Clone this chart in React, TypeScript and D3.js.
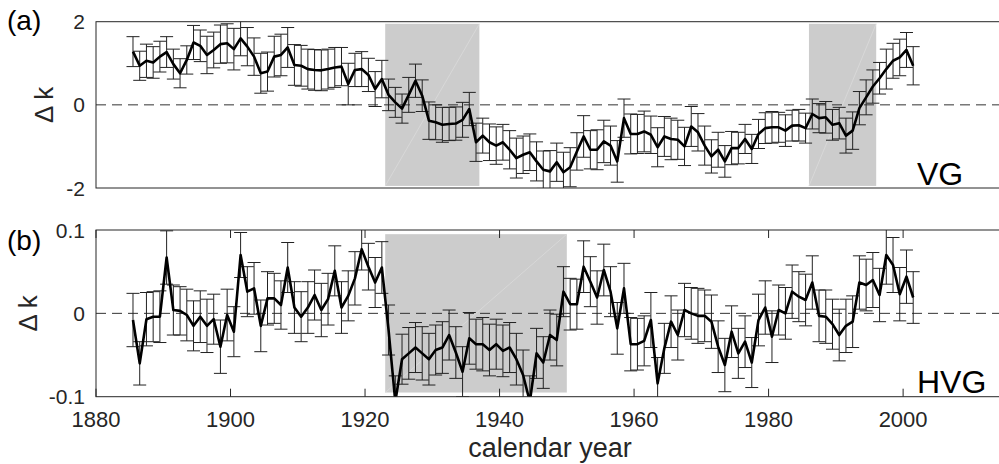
import React from 'react';
import * as d3 from 'd3';

// ---- data ----
const years: number[] = d3.range(1885.5, 2002, 1);

const vgValues = [
  1.28, 0.94, 1.06, 1.02, 1.16, 1.27, 0.98, 0.76, 1.08, 1.50,
  1.42, 1.20, 1.32, 1.46, 1.48, 1.34, 1.60, 1.40, 1.16, 0.76,
  0.80, 1.16, 1.20, 1.38, 0.96, 0.94, 0.86, 0.84, 0.83, 0.86,
  0.90, 0.92, 0.50, 0.84, 0.86, 0.72, 0.38, 0.62, 0.24, 0.06,
  -0.09, 0.24, 0.58, 0.22, -0.38, -0.42, -0.48, -0.46, -0.45, -0.36,
  -0.10, -0.90, -0.74, -0.90, -0.98, -0.90, -1.08, -1.28, -1.20, -1.14,
  -1.36, -1.56, -1.60, -1.38, -1.62, -1.50, -1.12, -0.76, -1.08, -1.08,
  -0.88, -0.98, -1.36, -0.32, -0.70, -0.70, -0.64, -0.72, -1.02, -0.76,
  -0.82, -0.84, -1.00, -0.52, -0.66, -0.98, -1.24, -1.08, -1.36, -1.04,
  -1.04, -0.82, -1.06, -0.70, -0.56, -0.54, -0.54, -0.62, -0.50, -0.49,
  -0.56, -0.22, -0.32, -0.30, -0.48, -0.44, -0.74, -0.62, -0.08, 0.18,
  0.44, 0.64, 0.86, 1.06, 1.14, 1.32, 0.94,
];

const vgErrors = [
  0.36, 0.35, 0.40, 0.38, 0.37, 0.37, 0.36, 0.35, 0.34, 0.41,
  0.38, 0.45, 0.43, 0.46, 0.47, 0.50, 0.42, 0.46, 0.45, 0.48,
  0.47, 0.49, 0.50, 0.48, 0.49, 0.49, 0.48, 0.49, 0.49, 0.48,
  0.48, 0.46, 0.50, 0.40, 0.42, 0.40, 0.42, 0.45, 0.38, 0.36,
  0.35, 0.42, 0.40, 0.38, 0.45, 0.42, 0.42, 0.40, 0.40, 0.42,
  0.40, 0.46, 0.42, 0.44, 0.45, 0.43, 0.46, 0.48, 0.45, 0.44,
  0.47, 0.45, 0.50, 0.46, 0.48, 0.47, 0.45, 0.50, 0.46, 0.48,
  0.51, 0.47, 0.50, 0.46, 0.48, 0.47, 0.49, 0.45, 0.47, 0.48,
  0.50, 0.47, 0.46, 0.48, 0.45, 0.47, 0.40, 0.42, 0.38, 0.40,
  0.38, 0.35, 0.35, 0.35, 0.37, 0.38, 0.36, 0.38, 0.37, 0.38,
  0.36, 0.36, 0.35, 0.38, 0.37, 0.38, 0.42, 0.45, 0.40, 0.42,
  0.40, 0.38, 0.48, 0.42, 0.44, 0.42, 0.46,
];

const hvgValues = [
  -0.008, -0.060, -0.007, -0.004, -0.004, 0.067, 0.004, 0.003, -0.002, -0.015,
  -0.004, -0.015, -0.007, -0.040, -0.002, -0.022, 0.070, 0.026, 0.030, -0.015,
  0.018, 0.018, 0.010, 0.055, 0.007, -0.004, 0.007, 0.022, 0.004, 0.017,
  0.051, 0.007, 0.021, 0.042, 0.077, 0.056, 0.037, 0.055, -0.020, -0.106,
  -0.055, -0.048, -0.041, -0.048, -0.055, -0.044, -0.041, -0.026, -0.047, -0.070,
  -0.030, -0.037, -0.037, -0.044, -0.037, -0.045, -0.041, -0.055, -0.074, -0.106,
  -0.048, -0.059, -0.026, -0.032, 0.026, 0.011, 0.011, 0.056, 0.038, 0.019,
  0.052, 0.026, -0.018, 0.030, -0.037, -0.037, -0.033, -0.008, -0.084, -0.042,
  -0.010, -0.026, 0.004, 0.000, -0.003, -0.003, -0.010, -0.040, -0.062, -0.022,
  -0.048, -0.034, -0.059, -0.008, 0.007, -0.028, 0.004, 0.000, 0.026, 0.020,
  0.016, 0.037, -0.003, -0.004, -0.013, -0.026, -0.015, -0.010, 0.037, 0.034,
  0.040, 0.022, 0.070, 0.058, 0.023, 0.044, 0.019,
];

const hvgErrors = [
  0.032, 0.026, 0.032, 0.030, 0.031, 0.032, 0.030, 0.029, 0.031, 0.030,
  0.031, 0.032, 0.030, 0.032, 0.031, 0.030, 0.027, 0.030, 0.031, 0.031,
  0.032, 0.030, 0.029, 0.030, 0.031, 0.030, 0.031, 0.030, 0.032, 0.031,
  0.030, 0.031, 0.030, 0.032, 0.025, 0.028, 0.030, 0.031, 0.030, 0.031,
  0.030, 0.031, 0.030, 0.032, 0.031, 0.030, 0.031, 0.030, 0.031, 0.030,
  0.031, 0.030, 0.032, 0.031, 0.030, 0.031, 0.030, 0.031, 0.030, 0.031,
  0.030, 0.031, 0.030, 0.031, 0.030, 0.031, 0.030, 0.031, 0.030, 0.032,
  0.031, 0.030, 0.031, 0.030, 0.032, 0.031, 0.030, 0.033, 0.031, 0.030,
  0.031, 0.030, 0.032, 0.031, 0.033, 0.031, 0.032, 0.031, 0.032, 0.031,
  0.030, 0.031, 0.030, 0.031, 0.032, 0.031, 0.030, 0.031, 0.032, 0.030,
  0.031, 0.032, 0.031, 0.032, 0.030, 0.031, 0.032, 0.031, 0.032, 0.031,
  0.033, 0.032, 0.035, 0.033, 0.032, 0.032, 0.031,
];

const xTicks = [1880, 1900, 1920, 1940, 1960, 1980, 2000];
const vgYTicks = [-2, 0, 2];
const hvgYTicks = [-0.1, 0, 0.1];
const vgShades: [number, number][] = [[1923, 1937], [1986, 1996]];
const hvgShades: [number, number][] = [[1923, 1950]];
const vgShadeSpan: [number, number] = [-1.95, 1.95];
const hvgShadeSpan: [number, number] = [-0.095, 0.095];

const W = 999;
const H = 464;
const FONT = '"Liberation Sans", Arial, Helvetica, sans-serif';

const x = d3.scaleLinear().domain([1880, 2015]).range([96, 1004]);

type PanelProps = {
  id: string;
  values: number[];
  errors: number[];
  yDomain: [number, number];
  top: number;
  bottom: number;
  yTicks: number[];
  shades: [number, number][];
  shadeSpan: [number, number];
  showXTicks: boolean;
  panelLabel: string;
  panelLabelY: number;
  yLabelX: number;
  name: string;
  nameY: number;
};

function Panel(p: PanelProps) {
  const y = d3.scaleLinear().domain(p.yDomain).range([p.bottom, p.top]);
  const left = x.range()[0];
  const right = x.range()[1];
  const line = d3
    .line<number>()
    .x((_, i) => x(years[i]))
    .y((d) => y(d));
  const capHalf = 6.5;
  const tickLen = 8;
  const fmt = (v: number) => (v === 0 ? '0' : String(v));
  return (
    <g>
      <defs>
        <clipPath id={`clip-${p.id}`}>
          <rect x={left} y={p.top} width={right - left} height={p.bottom - p.top} />
        </clipPath>
      </defs>
      {p.shades.map(([a, b], k) => (
        <g key={k}>
          <rect
            x={x(a)}
            y={y(p.shadeSpan[1])}
            width={x(b) - x(a)}
            height={y(p.shadeSpan[0]) - y(p.shadeSpan[1])}
            fill="#cccccc"
          />
          <line
            x1={x(a)}
            y1={y(p.shadeSpan[0])}
            x2={x(b)}
            y2={y(p.shadeSpan[1])}
            stroke="#dadada"
            strokeWidth={0.8}
          />
        </g>
      ))}
      <line
        x1={left}
        x2={right}
        y1={y(0)}
        y2={y(0)}
        stroke="#333"
        strokeWidth={1}
        strokeDasharray="10,6"
      />
      <g clipPath={`url(#clip-${p.id})`}>
        {p.values.map((v, i) => {
          const cx = x(years[i]);
          const y1 = y(v + p.errors[i]);
          const y2 = y(v - p.errors[i]);
          return (
            <g key={i} stroke="#222" strokeWidth={1}>
              <line x1={cx} x2={cx} y1={y1} y2={y2} />
              <line x1={cx - capHalf} x2={cx + capHalf} y1={y1} y2={y1} />
              <line x1={cx - capHalf} x2={cx + capHalf} y1={y2} y2={y2} />
            </g>
          );
        })}
        <path d={line(p.values) || ''} fill="none" stroke="#000" strokeWidth={2.6} strokeLinejoin="round" />
      </g>
      <rect x={left} y={p.top} width={right - left} height={p.bottom - p.top} fill="none" stroke="#262626" strokeWidth={1} />
      {p.showXTicks &&
        xTicks.map((t) => (
          <g key={t} stroke="#262626" strokeWidth={1}>
            <line x1={x(t)} x2={x(t)} y1={p.bottom} y2={p.bottom - tickLen} />
            <line x1={x(t)} x2={x(t)} y1={p.top} y2={p.top + tickLen} />
          </g>
        ))}
      {p.yTicks.map((t) => (
        <text
          key={t}
          x={85}
          y={y(t)}
          dy="0.36em"
          textAnchor="end"
          fontSize={21}
          fill="#262626"
          fontFamily={FONT}
        >
          {fmt(t)}
        </text>
      ))}
      <text
        transform={`translate(${p.yLabelX},${(p.top + p.bottom) / 2}) rotate(-90)`}
        textAnchor="middle"
        fontSize={26}
        fill="#262626"
        fontFamily={FONT}
      >
        {'\u0394 k'}
      </text>
      <text x={7} y={p.panelLabelY} fontSize={28} fill="#000" fontFamily={FONT}>
        {p.panelLabel}
      </text>
      <text x={917} y={p.nameY} fontSize={32} fill="#000" fontFamily={FONT}>
        {p.name}
      </text>
    </g>
  );
}

export default function App() {
  return (
    <svg
      width={W}
      height={H}
      viewBox={`0 0 ${W} ${H}`}
      style={{ position: 'absolute', left: 0, top: 0, background: '#fff' }}
    >
      <rect x={0} y={0} width={W} height={H} fill="#fff" />
      <Panel
        id="a"
        values={vgValues}
        errors={vgErrors}
        yDomain={[-2, 2]}
        top={21.7}
        bottom={188}
        yTicks={vgYTicks}
        shades={vgShades}
        shadeSpan={vgShadeSpan}
        showXTicks={false}
        panelLabel="(a)"
        panelLabelY={30}
        yLabelX={53}
        name="VG"
        nameY={185}
      />
      <Panel
        id="b"
        values={hvgValues}
        errors={hvgErrors}
        yDomain={[-0.1, 0.1]}
        top={230}
        bottom={396.7}
        yTicks={hvgYTicks}
        shades={hvgShades}
        shadeSpan={hvgShadeSpan}
        showXTicks={true}
        panelLabel="(b)"
        panelLabelY={250}
        yLabelX={37}
        name="HVG"
        nameY={393}
      />
      {xTicks.map((t) => (
        <text
          key={t}
          x={x(t)}
          y={427}
          textAnchor="middle"
          fontSize={22}
          fill="#262626"
          fontFamily={FONT}
        >
          {t}
        </text>
      ))}
      <text x={550} y={457} textAnchor="middle" fontSize={27} fill="#262626" fontFamily={FONT}>
        calendar year
      </text>
    </svg>
  );
}
